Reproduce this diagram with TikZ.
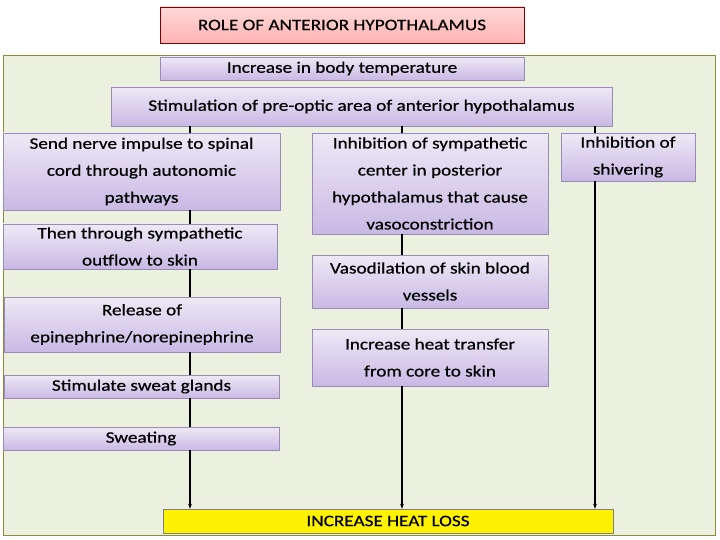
\documentclass[tikz,border=0pt]{standalone}
\usepackage{fontspec}
\setmainfont[FakeStretch=1.2,FakeBold=0.6]{Carlito}
\usetikzlibrary{arrows.meta}
\definecolor{bord}{HTML}{9A8BB5}
\definecolor{ltop}{HTML}{EEE9F6}
\definecolor{lbot}{HTML}{C8B9E4}
\tikzset{
 box/.style={draw=bord, top color=ltop, bottom color=lbot, inner sep=0pt, align=center, font=\fontsize{16}{27}\selectfont, text=black},
 ln/.style={line width=1.1pt, black},
}
\begin{document}
\begin{tikzpicture}[x=1pt,y=-1pt]
\useasboundingbox (0,0) rectangle (720,540);
\fill[white] (0,0) rectangle (720,540);
\node[draw=black!50!red, top color=red!15, bottom color=red!30, minimum width=364, minimum height=36, inner sep=0, font=\fontsize{16}{20}\selectfont] (title) at (342,25) {ROLE OF ANTERIOR HYPOTHALAMUS};
\node[draw=olive!60!gray, fill={rgb,255:red,235;green,241;blue,222}, minimum width=712, minimum height=480, inner sep=0] (bg) at (359,295) {};
\coordinate (L) at (190,0);
\coordinate (M) at (402,0);
\coordinate (R) at (595,0);
\node[box, minimum width=364, minimum height=23] (temp) at (342,68.5) {Increase in body temperature};
\node[box, minimum width=501, minimum height=39] (stim) at (361.5,106.5) {Stimulation of pre-optic area of anterior hypothalamus};
\node[box, minimum width=277, minimum height=77] (send) at (141.5,171.5) {Send nerve impulse to spinal\\cord through autonomic\\pathways};
\node[box, minimum width=274, minimum height=45] (then) at (140,246.5) {Then through sympathetic\\outflow to skin};
\node[box, minimum width=276, minimum height=55] (rel) at (142,324.5) {Release of\\epinephrine/norepinephrine};
\node[box, minimum width=275, minimum height=23] (sweat) at (141.5,386.5) {Stimulate sweat glands};
\node[box, minimum width=276, minimum height=23] (sweating) at (141,438.5) {Sweating};
\node[box, minimum width=236, minimum height=101] (inh) at (430,183.5) {Inhibition of sympathetic\\center in posterior\\hypothalamus that cause\\vasoconstriction};
\node[box, minimum width=236, minimum height=53] (vaso) at (430,281.5) {Vasodilation of skin blood\\vessels};
\node[box, minimum width=236, minimum height=57] (heat) at (430,357.5) {Increase heat transfer\\from core to skin};
\node[box, minimum width=134, minimum height=48] (shiv) at (628,157) {Inhibition of\\shivering};
\node[draw=gray, fill=yellow, minimum width=450, minimum height=24, inner sep=0, font=\fontsize{16}{20}\selectfont] (loss) at (388,521) {INCREASE HEAT LOSS};
\begin{scope}[ln]
\draw (stim.south -| L) -- (send.north -| L);
\draw (send.south -| L) -- (then.north -| L);
\draw (then.south -| L) -- (rel.north -| L);
\draw (rel.south -| L) -- (sweat.north -| L);
\draw (sweat.south -| L) -- (sweating.north -| L);
\draw[-{Stealth[length=5pt]}] (sweating.south -| L) -- (loss.north -| L);
\draw (stim.south -| M) -- (inh.north -| M);
\draw (inh.south -| M) -- (vaso.north -| M);
\draw (vaso.south -| M) -- (heat.north -| M);
\draw[-{Stealth[length=5pt]}] (heat.south -| M) -- (loss.north -| M);
\draw (stim.south -| R) -- (shiv.north -| R);
\draw[-{Stealth[length=5pt]}] (shiv.south -| R) -- (loss.north -| R);
\end{scope}
\end{tikzpicture}
\end{document}
